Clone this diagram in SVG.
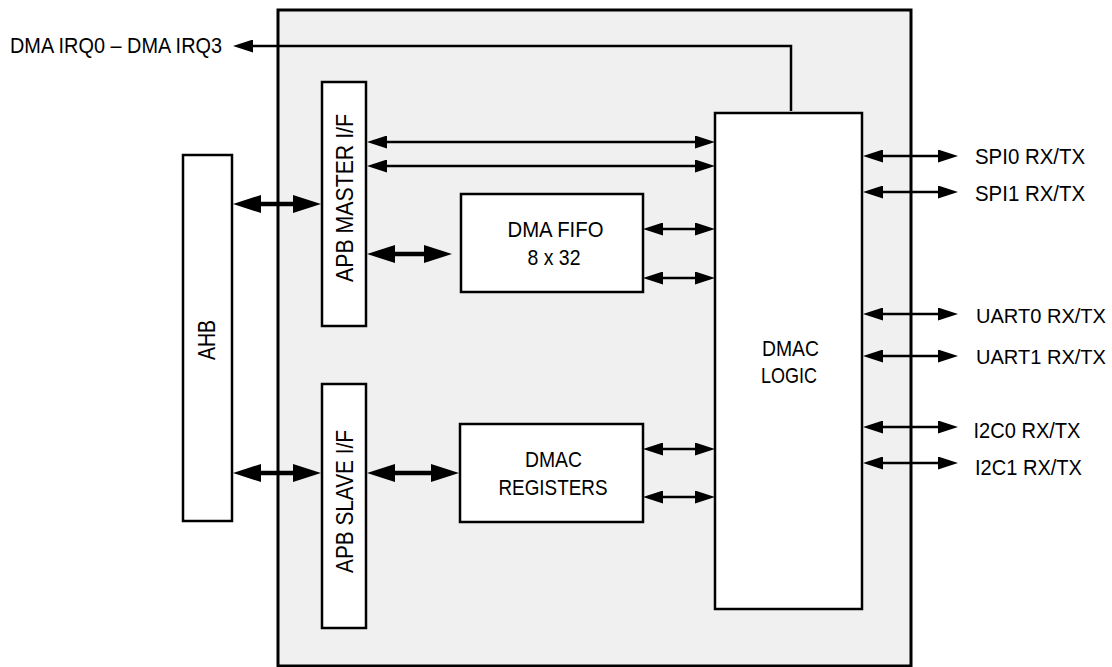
<svg xmlns="http://www.w3.org/2000/svg" width="1112" height="667" viewBox="0 0 1112 667">
<defs>
<style>
.box{fill:#fff;stroke:#000;stroke-width:2.5}
.outer{fill:#f0f0f0;stroke:#000;stroke-width:3}
.thin{fill:none;stroke:#000;stroke-width:2.5}
.thick{fill:none;stroke:#000;stroke-width:4.5}
.t{font-family:"Liberation Sans Narrow","Liberation Sans",Arial,sans-serif;font-size:21.5px;fill:#000}
.r{font-size:24px}
.u{font-size:20px}
</style>
<marker id="a" viewBox="0 0 20 13" refX="12" refY="6.5" markerWidth="20" markerHeight="13" markerUnits="userSpaceOnUse" orient="auto-start-reverse">
<path d="M0,0 L20,6.5 L0,13 z" fill="#000"/>
</marker>
<marker id="b" viewBox="0 0 28 18" refX="18" refY="9" markerWidth="28" markerHeight="18" markerUnits="userSpaceOnUse" orient="auto-start-reverse">
<path d="M0,0 L28,9 L0,18 z" fill="#000"/>
</marker>
</defs>
<rect class="outer" x="278" y="10" width="633" height="656"/>
<g id="ahb">
<rect class="box" x="183" y="155" width="49" height="366"/>
<text class="t r" transform="translate(215,340) rotate(-90)" text-anchor="middle" textLength="40" lengthAdjust="spacingAndGlyphs">AHB</text>
</g>
<g id="apb-master">
<rect class="box" x="322" y="82" width="44" height="244"/>
<text class="t r" transform="translate(352.5,282) rotate(-90)" textLength="168" lengthAdjust="spacingAndGlyphs">APB MASTER I/F</text>
</g>
<g id="apb-slave">
<rect class="box" x="322" y="384" width="44" height="244"/>
<text class="t r" transform="translate(352.5,573) rotate(-90)" textLength="143" lengthAdjust="spacingAndGlyphs">APB SLAVE I/F</text>
</g>
<g id="dma-fifo">
<rect class="box" x="461" y="194" width="182" height="98"/>
<text class="t" x="555.5" y="236.5" text-anchor="middle" textLength="96" lengthAdjust="spacingAndGlyphs">DMA FIFO</text>
<text class="t" x="554" y="265" text-anchor="middle" textLength="53" lengthAdjust="spacingAndGlyphs">8 x 32</text>
</g>
<g id="dmac-registers">
<rect class="box" x="460" y="424" width="183" height="98"/>
<text class="t" x="553.5" y="466.5" text-anchor="middle" textLength="57" lengthAdjust="spacingAndGlyphs">DMAC</text>
<text class="t" x="553" y="495" text-anchor="middle" textLength="109" lengthAdjust="spacingAndGlyphs">REGISTERS</text>
</g>
<g id="dmac-logic">
<rect class="box" x="715" y="113" width="147" height="496"/>
<text class="t" x="790.5" y="355.5" text-anchor="middle" textLength="57" lengthAdjust="spacingAndGlyphs">DMAC</text>
<text class="t" x="789" y="383" text-anchor="middle" textLength="56" lengthAdjust="spacingAndGlyphs">LOGIC</text>
</g>
<g id="labels">
<text class="t" x="10" y="53" textLength="212" lengthAdjust="spacingAndGlyphs">DMA IRQ0 – DMA IRQ3</text>
<text class="t" x="975" y="164" textLength="110" lengthAdjust="spacingAndGlyphs">SPI0 RX/TX</text>
<text class="t" x="975" y="200.5" textLength="110" lengthAdjust="spacingAndGlyphs">SPI1 RX/TX</text>
<text class="t u" x="976" y="323" textLength="130" lengthAdjust="spacingAndGlyphs">UART0 RX/TX</text>
<text class="t u" x="976" y="364" textLength="130" lengthAdjust="spacingAndGlyphs">UART1 RX/TX</text>
<text class="t" x="973.5" y="438" textLength="107" lengthAdjust="spacingAndGlyphs">I2C0 RX/TX</text>
<text class="t" x="975" y="475" textLength="107" lengthAdjust="spacingAndGlyphs">I2C1 RX/TX</text>
</g>
<g id="connectors">
<polyline class="thin" points="791,111 791,46 241,46" marker-end="url(#a)"/>
<line class="thin" x1="375" y1="142" x2="707" y2="142" marker-start="url(#a)" marker-end="url(#a)"/>
<line class="thin" x1="375" y1="166" x2="707" y2="166" marker-start="url(#a)" marker-end="url(#a)"/>
<line class="thin" x1="651" y1="229" x2="707" y2="229" marker-start="url(#a)" marker-end="url(#a)"/>
<line class="thin" x1="651" y1="278" x2="707" y2="278" marker-start="url(#a)" marker-end="url(#a)"/>
<line class="thin" x1="651" y1="449" x2="707" y2="449" marker-start="url(#a)" marker-end="url(#a)"/>
<line class="thin" x1="651" y1="497" x2="707" y2="497" marker-start="url(#a)" marker-end="url(#a)"/>
<line class="thin" x1="871" y1="156" x2="950" y2="156" marker-start="url(#a)" marker-end="url(#a)"/>
<line class="thin" x1="871" y1="192" x2="950" y2="192" marker-start="url(#a)" marker-end="url(#a)"/>
<line class="thin" x1="871" y1="314" x2="950" y2="314" marker-start="url(#a)" marker-end="url(#a)"/>
<line class="thin" x1="871" y1="356" x2="950" y2="356" marker-start="url(#a)" marker-end="url(#a)"/>
<line class="thin" x1="871" y1="427" x2="950" y2="427" marker-start="url(#a)" marker-end="url(#a)"/>
<line class="thin" x1="871" y1="463" x2="950" y2="463" marker-start="url(#a)" marker-end="url(#a)"/>
<line class="thick" x1="243" y1="204" x2="311" y2="204" marker-start="url(#b)" marker-end="url(#b)"/>
<line class="thick" x1="377" y1="254" x2="442" y2="254" marker-start="url(#b)" marker-end="url(#b)"/>
<line class="thick" x1="243" y1="473" x2="311" y2="473" marker-start="url(#b)" marker-end="url(#b)"/>
<line class="thick" x1="377" y1="473" x2="449" y2="473" marker-start="url(#b)" marker-end="url(#b)"/>
</g>
</svg>
